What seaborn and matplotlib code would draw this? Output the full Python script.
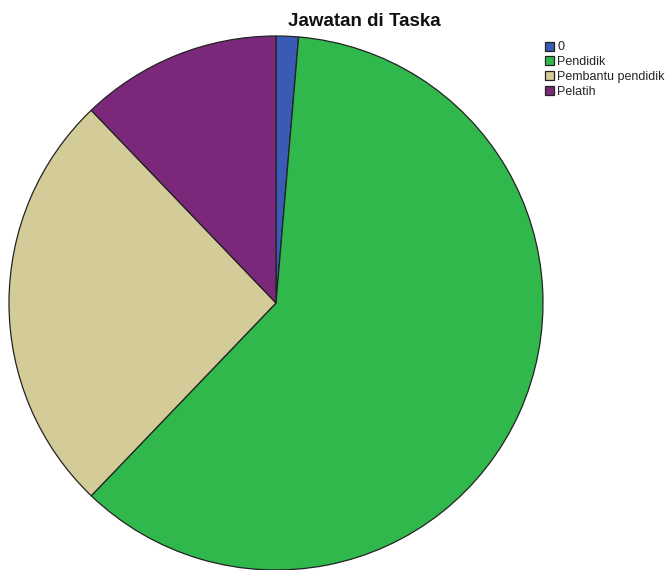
import matplotlib
matplotlib.use("Agg")
import matplotlib.pyplot as plt
import seaborn as sns

# data
labels = ["0", "Pendidik", "Pembantu pendidik", "Pelatih"]
counts = [1, 45, 19, 9]
colors = ["#3A5BB5", "#30B84C", "#D4CC98", "#7B287B"]

sns.set_theme(style="white")
plt.rcParams["font.family"] = ["Liberation Sans", "DejaVu Sans"]

fig = plt.figure(figsize=(6.69, 5.70), dpi=100)
ax = fig.add_axes([0, 0, 1, 1])

wedges, _ = ax.pie(counts, colors=colors, startangle=90, counterclock=False,
                   center=(276, 267), radius=267, frame=True,
                   wedgeprops=dict(edgecolor="#222222", linewidth=0.9))
ax.set_xlim(0, 669)
ax.set_ylim(0, 570)
ax.set_aspect("equal")
ax.axis("off")

fig.text(364 / 669, 1 - 21 / 570, "Jawatan di Taska", ha="center", va="center",
         fontsize=13.5, fontweight="bold", color="#111111")

leg = fig.legend(wedges, labels, loc="upper left",
                 bbox_to_anchor=(542 / 669, 1 - 39 / 570), frameon=False,
                 fontsize=9, handlelength=0.75, handleheight=0.75,
                 handletextpad=0.25, labelspacing=0.22, borderaxespad=0,
                 borderpad=0.2)

fig.savefig("out.png", dpi=100)
